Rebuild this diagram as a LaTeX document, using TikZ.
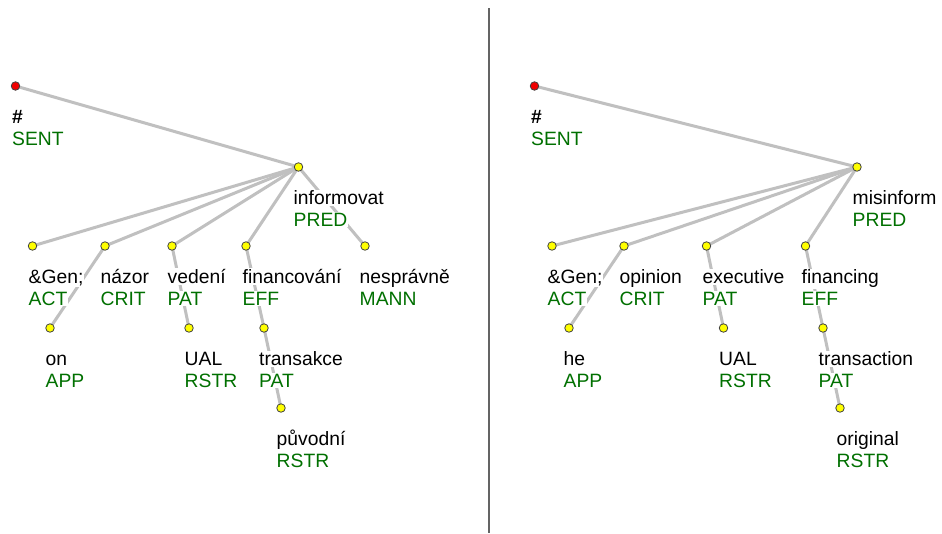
\documentclass[tikz,border=0pt]{standalone}
\usepackage{fontspec}
\setmainfont{Liberation Sans}
\definecolor{edgegray}{RGB}{192,192,192}
\definecolor{rolegreen}{RGB}{0,112,0}
\definecolor{rulegray}{RGB}{100,100,100}
\definecolor{dotyellow}{RGB}{255,255,0}
\definecolor{dotred}{RGB}{240,0,0}
\pgfdeclarelayer{paper}
\pgfdeclarelayer{edges}
\pgfsetlayers{paper,edges,main}
\tikzset{
  treedot/.style={circle, draw=black!75, line width=0.8pt, fill=dotyellow, inner sep=0pt, minimum size=8.5pt},
  rootdot/.style={treedot, fill=dotred},
  lemma/.style={anchor=base west, fill=white, inner sep=1pt, text=black, font=\fontsize{19.3}{21}\selectfont},
  functor/.style={lemma, text=rolegreen},
  treeedge/.style={draw=edgegray, line width=3pt},
}
\newcommand{\tlabel}[5]{%
  % #1 name, #2 x, #3 dot y, #4 lemma, #5 functor
  \node[lemma] (#1w) at (#2, #3+37.5) {#4};
  \node[functor] (#1f) at (#2, #3+59) {#5};
}
\begin{document}
\begin{tikzpicture}[x=1pt, y=-1pt]
\useasboundingbox (0,0) rectangle (942,533);
\begin{pgfonlayer}{paper}
\fill[white] (0,0) rectangle (942,533);
\end{pgfonlayer}

% separator between the two trees
\draw[rulegray, line width=2pt] (488.5,8) coordinate (sepTop) -- (488.5,533) coordinate (sepBottom);

% ---------- Czech tree ----------
\node[rootdot] (cRoot) at (15.5,86) {};
\node[treedot] (cPred) at (298.5,167) {};
\node[treedot] (cAct)  at (32.5,246) {};
\node[treedot] (cCrit) at (105,246) {};
\node[treedot] (cPat)  at (172,246) {};
\node[treedot] (cEff)  at (246,246) {};
\node[treedot] (cMann) at (365,246) {};
\node[treedot] (cApp)  at (50,328) {};
\node[treedot] (cUal)  at (189,328) {};
\node[treedot] (cTr)   at (264,328) {};
\node[treedot] (cOrig) at (281,408) {};

\begin{pgfonlayer}{edges}
\draw[treeedge] (cRoot.center) -- (cPred.center);
\draw[treeedge] (cPred.center) -- (cAct.center);
\draw[treeedge] (cPred.center) -- (cCrit.center);
\draw[treeedge] (cPred.center) -- (cPat.center);
\draw[treeedge] (cPred.center) -- (cEff.center);
\draw[treeedge] (cPred.center) -- (cMann.center);
\draw[treeedge] (cCrit.center) -- (cApp.center);
\draw[treeedge] (cPat.center) -- (cUal.center);
\draw[treeedge] (cEff.center) -- (cTr.center);
\draw[treeedge] (cTr.center) -- (cOrig.center);
\end{pgfonlayer}

\node[lemma, font=\fontsize{19.3}{21}\selectfont\bfseries] (cRootw) at (11,86+37.5) {\#};
\node[functor] (cRootf) at (11,86+59) {SENT};
\tlabel{cPredL}{292.5}{167}{informovat}{PRED}
\tlabel{cActL}{27.5}{246}{\&Gen;}{ACT}
\tlabel{cCritL}{99.5}{246}{názor}{CRIT}
\tlabel{cPatL}{166.5}{246}{vedení}{PAT}
\tlabel{cEffL}{241.5}{246}{financování}{EFF}
\tlabel{cMannL}{358.5}{246}{nesprávně}{MANN}
\tlabel{cAppL}{44.5}{328}{on}{APP}
\tlabel{cUalL}{183.5}{328}{UAL}{RSTR}
\tlabel{cTrL}{258}{328}{transakce}{PAT}
\tlabel{cOrigL}{275.5}{408}{původní}{RSTR}

% ---------- English tree ----------
\node[rootdot] (eRoot) at (534.5,86) {};
\node[treedot] (ePred) at (857,167) {};
\node[treedot] (eAct)  at (552,246) {};
\node[treedot] (eCrit) at (624,246) {};
\node[treedot] (ePat)  at (706.5,246) {};
\node[treedot] (eEff)  at (805.5,246) {};
\node[treedot] (eApp)  at (569,328) {};
\node[treedot] (eUal)  at (723.5,328) {};
\node[treedot] (eTr)   at (823,328) {};
\node[treedot] (eOrig) at (840,408) {};

\begin{pgfonlayer}{edges}
\draw[treeedge] (eRoot.center) -- (ePred.center);
\draw[treeedge] (ePred.center) -- (eAct.center);
\draw[treeedge] (ePred.center) -- (eCrit.center);
\draw[treeedge] (ePred.center) -- (ePat.center);
\draw[treeedge] (ePred.center) -- (eEff.center);
\draw[treeedge] (eCrit.center) -- (eApp.center);
\draw[treeedge] (ePat.center) -- (eUal.center);
\draw[treeedge] (eEff.center) -- (eTr.center);
\draw[treeedge] (eTr.center) -- (eOrig.center);
\end{pgfonlayer}

\node[lemma, font=\fontsize{19.3}{21}\selectfont\bfseries] (eRootw) at (530,86+37.5) {\#};
\node[functor] (eRootf) at (530,86+59) {SENT};
\tlabel{ePredL}{851.5}{167}{misinform}{PRED}
\tlabel{eActL}{546.5}{246}{\&Gen;}{ACT}
\tlabel{eCritL}{618.5}{246}{opinion}{CRIT}
\tlabel{ePatL}{701.5}{246}{executive}{PAT}
\tlabel{eEffL}{800.5}{246}{financing}{EFF}
\tlabel{eAppL}{562.5}{328}{he}{APP}
\tlabel{eUalL}{718}{328}{UAL}{RSTR}
\tlabel{eTrL}{817.5}{328}{transaction}{PAT}
\tlabel{eOrigL}{835.5}{408}{original}{RSTR}
\end{tikzpicture}
\end{document}
